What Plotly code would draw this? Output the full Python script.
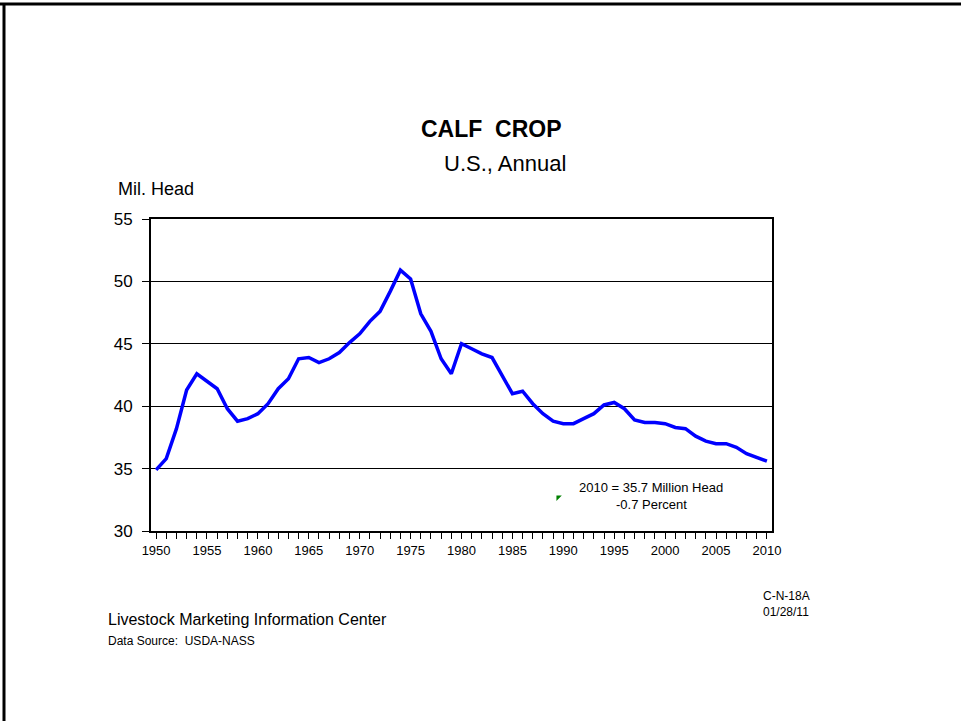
import plotly.graph_objects as go

# Calf crop, U.S. annual, million head
years = list(range(1950, 2011))
calf_crop = [
    34.9, 35.8, 38.2, 41.3, 42.6, 42.0, 41.4, 39.8, 38.8, 39.0,
    39.4, 40.2, 41.4, 42.2, 43.8, 43.9, 43.5, 43.8, 44.3, 45.1,
    45.8, 46.8, 47.6, 49.2, 50.9, 50.2, 47.4, 46.0, 43.8, 42.6,
    45.0, 44.6, 44.2, 43.9, 42.4, 41.0, 41.2, 40.2, 39.4, 38.8,
    38.6, 38.6, 39.0, 39.4, 40.1, 40.3, 39.8, 38.9, 38.7, 38.7,
    38.6, 38.3, 38.2, 37.6, 37.2, 37.0, 37.0, 36.7, 36.2, 35.9,
    35.6,
]
x_tick_years = years
x_tick_text = [str(y) if y % 5 == 0 else "" for y in years]
y_ticks = [30, 35, 40, 45, 50, 55]
note_lines = ["2010 = 35.7 Million Head", "-0.7 Percent"]
marker_x = [1989.5]
marker_y = [32.7]

W, H = 961, 721
L, R, T, B = 151, 772, 219, 531  # plot area in pixels


def px(x):
    return (x - L) / (R - L)


def py(y):
    return (B - y) / (B - T)


FONT = "Liberation Sans, Arial, sans-serif"

fig = go.Figure()
fig.add_trace(
    go.Scatter(
        x=years,
        y=calf_crop,
        mode="lines",
        line=dict(color="#0000FF", width=3.5),
        hoverinfo="x+y",
        showlegend=False,
    )
)
fig.add_trace(
    go.Scatter(
        x=marker_x,
        y=marker_y,
        mode="markers",
        marker=dict(symbol="triangle-nw", size=6, color="#008000"),
        showlegend=False,
    )
)

fig.update_xaxes(
    range=[1949.5, 2010.5],
    tickvals=x_tick_years,
    ticktext=x_tick_text,
    ticks="outside",
    ticklen=6,
    tickwidth=1,
    tickcolor="black",
    tickfont=dict(family=FONT, size=13, color="black"),
    showgrid=False,
    zeroline=False,
    showline=True,
    linecolor="black",
    linewidth=2,
    mirror=True,
)
fig.update_yaxes(
    range=[30, 55],
    tickvals=y_ticks,
    ticks="outside",
    ticklen=7,
    tickwidth=1,
    tickcolor="black",
    ticklabelstandoff=6,
    tickfont=dict(family=FONT, size=17, color="black"),
    showgrid=True,
    gridcolor="black",
    gridwidth=1,
    zeroline=False,
    showline=True,
    linecolor="black",
    linewidth=2,
    mirror=True,
)

annotations = [
    dict(x=px(491), y=py(129), text="<b>CALF  CROP</b>", font=dict(size=23)),
    dict(x=px(505), y=py(163), text="U.S., Annual", font=dict(size=22)),
    dict(x=px(116), y=py(189), text="Mil. Head", font=dict(size=18), xanchor="left"),
    dict(x=px(651), y=py(487), text=note_lines[0], font=dict(size=13)),
    dict(x=px(651), y=py(504), text=note_lines[1], font=dict(size=13)),
    dict(x=px(106), y=py(619), text="Livestock Marketing Information Center",
         font=dict(size=16), xanchor="left"),
    dict(x=px(106), y=py(641), text="Data Source:  USDA-NASS",
         font=dict(size=12), xanchor="left"),
    dict(x=px(786), y=py(596), text="C-N-18A", font=dict(size=12)),
    dict(x=px(786), y=py(612), text="01/28/11", font=dict(size=12)),
]
for a in annotations:
    a.setdefault("xanchor", "center")
    a["font"].update(family=FONT, color="black")
    fig.add_annotation(
        xref="paper", yref="paper", yanchor="middle", showarrow=False, **a
    )

# frame edges of the original page
fig.add_shape(type="line", xref="paper", yref="paper",
              x0=px(0), x1=px(W), y0=py(4), y1=py(4),
              line=dict(color="black", width=3))
fig.add_shape(type="line", xref="paper", yref="paper",
              x0=px(4), x1=px(4), y0=py(3), y1=py(H),
              line=dict(color="black", width=3))

fig.update_layout(
    width=W,
    height=H,
    margin=dict(l=L, r=W - R, t=T, b=H - B, pad=0),
    paper_bgcolor="white",
    plot_bgcolor="white",
    font=dict(family=FONT, color="black"),
    showlegend=False,
)

fig.write_html(
    "out.html",
    config={"displayModeBar": False},
    post_script="document.body.style.margin='0';document.body.style.overflow='hidden';",
)
